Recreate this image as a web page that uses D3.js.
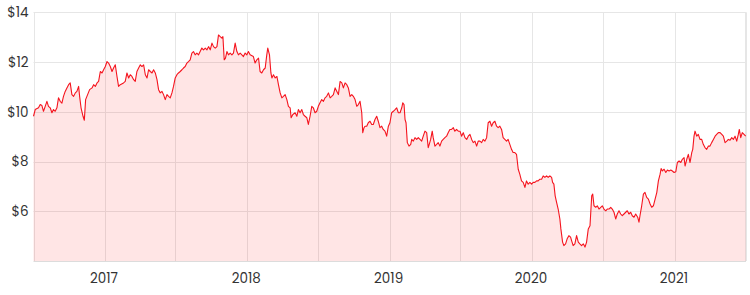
<!DOCTYPE html>
<html>
<head>
<meta charset="utf-8">
<script src="https://cdn.jsdelivr.net/npm/d3@7"></script>
<style>
  html, body { margin: 0; padding: 0; background: #fff; }
  svg { display: block; }
  text { font-family: Poppins, Inter, "Noto Sans", sans-serif; }
</style>
</head>
<body>
<svg id="chart" width="750" height="295"></svg>
<script>
// ---- data (dates as decimal years, price in $) ----
const decimalYears = [
2016.500,2016.512,2016.535,2016.547,2016.559,2016.570,2016.582,2016.594,2016.605,2016.617,
2016.629,2016.640,2016.652,2016.664,2016.675,2016.687,2016.699,2016.710,2016.722,2016.734,
2016.746,2016.757,2016.769,2016.781,2016.793,2016.804,2016.816,2016.823,2016.833,2016.847,
2016.856,2016.865,2016.879,2016.893,2016.910,2016.921,2016.933,2016.945,2016.956,2016.968,
2016.980,2016.991,2017.003,2017.015,2017.026,2017.038,2017.050,2017.061,2017.073,2017.085,
2017.096,2017.108,2017.131,2017.143,2017.155,2017.167,2017.178,2017.190,2017.202,2017.213,
2017.225,2017.237,2017.249,2017.260,2017.272,2017.284,2017.296,2017.307,2017.319,2017.331,
2017.342,2017.354,2017.366,2017.377,2017.389,2017.401,2017.412,2017.424,2017.436,2017.447,
2017.459,2017.471,2017.482,2017.494,2017.506,2017.517,2017.529,2017.541,2017.552,2017.564,
2017.576,2017.587,2017.599,2017.611,2017.622,2017.634,2017.646,2017.658,2017.669,2017.681,
2017.693,2017.705,2017.717,2017.728,2017.740,2017.752,2017.763,2017.775,2017.787,2017.798,
2017.810,2017.822,2017.829,2017.838,2017.847,2017.857,2017.868,2017.880,2017.892,2017.903,
2017.915,2017.927,2017.938,2017.950,2017.962,2017.973,2017.985,2017.997,2018.008,
2018.020,2018.043,2018.055,2018.067,2018.079,2018.090,2018.102,2018.114,2018.126,2018.137,
2018.144,2018.156,2018.166,2018.173,2018.184,2018.196,2018.208,2018.219,2018.231,2018.243,
2018.254,2018.266,2018.278,2018.289,2018.301,2018.308,2018.320,2018.336,2018.348,2018.359,
2018.371,2018.383,2018.394,2018.406,2018.418,2018.429,2018.441,2018.453,2018.464,2018.476,
2018.488,2018.499,2018.511,2018.523,2018.535,2018.546,2018.558,2018.570,2018.582,2018.593,
2018.605,2018.617,2018.629,2018.640,2018.652,2018.664,2018.675,2018.687,2018.699,2018.710,
2018.722,2018.734,2018.745,2018.757,2018.769,2018.780,2018.792,2018.804,2018.811,2018.820,
2018.827,2018.839,2018.850,2018.862,2018.874,2018.885,2018.897,2018.909,2018.920,2018.932,
2018.944,2018.955,2018.967,2018.979,2018.991,
2019.002,2019.014,2019.026,2019.038,2019.049,2019.061,2019.073,2019.085,2019.092,2019.101,
2019.108,2019.115,2019.124,2019.136,2019.148,2019.155,2019.166,2019.178,2019.190,2019.201,
2019.213,2019.225,2019.236,2019.248,2019.260,2019.271,2019.278,2019.288,2019.299,2019.306,
2019.318,2019.330,2019.341,2019.353,2019.365,2019.376,2019.388,2019.400,2019.411,2019.423,
2019.435,2019.447,2019.458,2019.470,2019.482,2019.494,2019.505,2019.517,2019.529,2019.541,
2019.552,2019.564,2019.576,2019.587,2019.599,2019.611,2019.622,2019.634,2019.646,2019.657,
2019.669,2019.681,2019.692,2019.704,2019.716,2019.727,2019.739,2019.751,2019.762,2019.774,
2019.786,2019.797,2019.809,2019.821,2019.832,2019.844,2019.856,2019.867,2019.879,2019.891,
2019.903,2019.914,2019.926,2019.938,2019.950,2019.961,2019.973,2019.985,2019.997,
2020.008,2020.020,2020.032,2020.043,2020.055,2020.067,2020.078,2020.090,2020.102,2020.113,
2020.125,2020.137,2020.144,2020.153,2020.162,2020.172,2020.183,2020.195,2020.202,2020.214,
2020.223,2020.235,2020.246,2020.258,2020.270,2020.277,2020.288,2020.300,2020.312,2020.324,
2020.335,2020.347,2020.359,2020.371,2020.382,2020.394,2020.406,2020.418,2020.425,2020.434,
2020.446,2020.457,2020.469,2020.481,2020.492,2020.504,2020.516,2020.527,2020.539,2020.551,
2020.562,2020.574,2020.586,2020.597,2020.609,2020.621,2020.632,2020.644,2020.656,2020.667,
2020.679,2020.691,2020.702,2020.714,2020.726,2020.740,2020.749,2020.756,2020.768,2020.780,
2020.791,2020.803,2020.815,2020.827,2020.838,2020.850,2020.862,2020.874,2020.885,2020.897,
2020.904,2020.913,2020.925,2020.937,2020.948,2020.960,2020.972,2020.983,2020.995,
2021.007,2021.018,2021.030,2021.042,2021.053,2021.065,2021.072,2021.084,2021.095,2021.107,
2021.119,2021.126,2021.135,2021.142,2021.154,2021.165,2021.177,2021.189,2021.200,2021.212,
2021.224,2021.236,2021.247,2021.259,2021.271,2021.283,2021.294,2021.306,2021.318,2021.330,
2021.341,2021.353,2021.365,2021.376,2021.388,2021.400,2021.411,2021.423,2021.435,2021.446,
2021.453,2021.463,2021.474,2021.486,2021.498
];
const prices = [
9.82,10.09,10.16,10.29,10.25,10.02,10.22,10.42,10.22,10.16,
9.96,10.09,10.02,10.16,10.56,10.42,10.35,10.62,10.82,10.96,
11.09,11.16,10.69,10.62,10.76,10.82,11.02,10.62,10.16,9.82,
9.66,10.49,10.69,10.89,10.96,11.09,11.02,11.16,11.22,11.62,
11.56,11.69,11.82,12.02,11.96,11.82,11.62,11.76,11.89,11.42,
11.02,11.09,11.16,11.22,11.56,11.36,11.49,11.42,11.29,11.22,
11.62,11.76,11.89,11.82,11.89,11.49,11.36,11.69,11.62,11.56,
11.69,11.56,11.29,10.89,10.76,10.82,10.69,10.49,10.69,10.62,
10.56,10.76,11.02,11.36,11.49,11.56,11.62,11.69,11.76,11.82,
11.96,12.02,12.09,12.36,12.42,12.29,12.36,12.29,12.42,12.56,
12.49,12.56,12.49,12.62,12.49,12.76,12.62,12.56,12.62,13.09,
13.02,12.96,13.02,12.09,12.16,12.42,12.29,12.36,12.29,12.36,
12.76,12.42,12.29,12.36,12.29,12.22,12.36,12.29,12.42,
12.29,12.22,11.96,12.09,12.16,11.62,11.56,11.69,11.76,12.29,
12.56,12.29,11.56,11.36,11.49,11.36,11.42,11.09,10.76,10.56,
10.62,10.69,10.49,10.22,10.16,9.76,9.89,9.96,9.82,10.09,
9.96,10.09,9.89,9.82,9.76,9.49,9.82,10.22,10.16,9.96,
10.02,10.22,10.36,10.49,10.42,10.56,10.62,10.76,10.56,10.62,
10.69,10.96,10.82,10.69,11.22,11.16,10.96,11.16,11.09,10.96,
10.62,10.69,10.62,10.49,10.22,10.29,10.42,9.96,9.16,9.36,
9.42,9.42,9.56,9.62,9.49,9.49,9.69,9.82,9.62,9.36,
9.42,9.29,9.22,9.02,9.42,
9.56,9.96,10.02,10.09,10.16,9.96,9.96,10.16,10.36,10.29,
9.69,9.56,8.76,8.62,8.69,8.89,8.82,8.96,8.89,8.96,
8.89,8.82,9.02,9.22,9.16,8.56,8.69,8.89,9.22,8.96,
8.62,8.69,8.76,8.62,8.82,8.89,8.96,9.02,9.16,9.29,
9.29,9.36,9.22,9.29,9.22,9.22,9.02,9.16,8.96,8.89,
9.02,9.09,8.89,8.76,8.82,8.62,8.82,8.82,8.76,8.89,
8.82,8.96,9.56,9.62,9.42,9.56,9.62,9.42,9.36,9.42,
9.29,8.96,8.89,8.82,8.89,8.69,8.49,8.36,8.36,8.29,
7.69,7.49,7.22,7.16,6.96,7.22,7.09,7.16,7.09,
7.16,7.16,7.22,7.22,7.29,7.29,7.42,7.36,7.42,7.36,
7.42,7.36,7.16,7.09,6.62,6.36,6.09,5.69,5.29,4.76,
4.62,4.69,4.89,5.02,4.96,4.82,4.62,4.69,5.02,4.76,
4.69,4.62,4.69,4.56,4.76,5.29,5.42,6.62,6.69,6.22,
6.16,6.22,6.09,6.16,6.22,6.09,6.02,6.09,6.09,6.16,
6.09,5.96,5.69,5.89,6.02,5.89,5.82,5.89,5.96,6.02,
5.89,5.96,5.82,5.76,5.89,5.76,5.56,5.82,6.22,6.69,
6.76,6.56,6.49,6.29,6.16,6.22,6.49,6.76,7.22,7.49,
7.72,7.62,7.69,7.56,7.66,7.62,7.66,7.62,7.56,
7.59,7.96,8.02,7.96,8.09,8.16,7.82,8.09,8.29,7.96,
8.36,8.49,9.02,9.22,9.02,9.09,8.89,8.89,8.69,8.56,
8.49,8.62,8.62,8.76,8.89,9.02,9.09,9.16,9.16,9.09,
9.02,8.76,8.82,8.89,8.86,8.96,8.89,9.02,8.82,9.09,
9.29,8.96,9.16,9.09,9.02
];
const yTicks = [6, 8, 10, 12, 14];
const yTickLabels = ["$6", "$8", "$10", "$12", "$14"];
const xTickYears = [2017, 2018, 2019, 2020, 2021];
const domainYears = [2016.5, 2021.5];
const yDomain = [4, 14];

// ---- helpers ----
function decimalToDate(y) {
  const yr = Math.floor(y);
  const start = new Date(yr, 0, 1);
  const end = new Date(yr + 1, 0, 1);
  return new Date(start.getTime() + (y - yr) * (end - start));
}

const data = decimalYears.map((d, i) => ({ date: decimalToDate(d), value: prices[i] }));

const W = 750, H = 295;
const margin = { left: 33.5, right: 4, top: 12.3, bottom: 34 };
const svg = d3.select("#chart");

const x = d3.scaleTime()
  .domain(domainYears.map(decimalToDate))
  .range([margin.left, W - margin.right]);
const y = d3.scaleLinear()
  .domain(yDomain)
  .range([H - margin.bottom, margin.top]);

const gridColor = "#e6e6e6";

// vertical gridlines: Jan & Jul, plus edges
const halfYears = d3.timeMonth.every(6).range(x.domain()[0], x.domain()[1]);
const vLines = [x.domain()[0], ...halfYears, x.domain()[1]];
svg.append("g")
  .selectAll("line")
  .data(vLines)
  .join("line")
  .attr("x1", d => Math.round(x(d)) + 0.5)
  .attr("x2", d => Math.round(x(d)) + 0.5)
  .attr("y1", y(yDomain[1]))
  .attr("y2", y(yDomain[0]))
  .attr("stroke", gridColor)
  .attr("stroke-width", 1);

// horizontal gridlines
svg.append("g")
  .selectAll("line")
  .data(yTicks)
  .join("line")
  .attr("x1", x.range()[0])
  .attr("x2", x.range()[1])
  .attr("y1", d => Math.round(y(d)) + 0.5)
  .attr("y2", d => Math.round(y(d)) + 0.5)
  .attr("stroke", gridColor)
  .attr("stroke-width", 1);

// bottom axis line
svg.append("line")
  .attr("x1", x.range()[0])
  .attr("x2", x.range()[1])
  .attr("y1", Math.round(y(yDomain[0])) + 0.5)
  .attr("y2", Math.round(y(yDomain[0])) + 0.5)
  .attr("stroke", "#dcdcdc")
  .attr("stroke-width", 1);

// area
const area = d3.area()
  .x(d => x(d.date))
  .y0(y(yDomain[0]))
  .y1(d => y(d.value));
svg.append("path")
  .datum(data)
  .attr("d", area)
  .attr("fill", "rgba(255, 20, 20, 0.11)");

// line
const line = d3.line()
  .x(d => x(d.date))
  .y(d => y(d.value));
svg.append("path")
  .datum(data)
  .attr("d", line)
  .attr("fill", "none")
  .attr("stroke", "#f5141e")
  .attr("stroke-width", 1.1)
  .attr("stroke-linejoin", "round");

// y tick labels
svg.append("g")
  .selectAll("text")
  .data(yTicks)
  .join("text")
  .attr("x", 28.5)
  .attr("y", d => y(d))
  .attr("dy", "0.35em")
  .attr("text-anchor", "end")
  .attr("font-size", 13.5)
  .attr("fill", "#333")
  .text((d, i) => yTickLabels[i]);

// x tick labels
svg.append("g")
  .selectAll("text")
  .data(xTickYears)
  .join("text")
  .attr("x", d => x(new Date(d, 0, 1)) - 1)
  .attr("y", 278)
  .attr("dy", "0.35em")
  .attr("text-anchor", "middle")
  .attr("font-size", 13.5)
  .attr("fill", "#333")
  .text(d => String(d));
</script>
</body>
</html>
